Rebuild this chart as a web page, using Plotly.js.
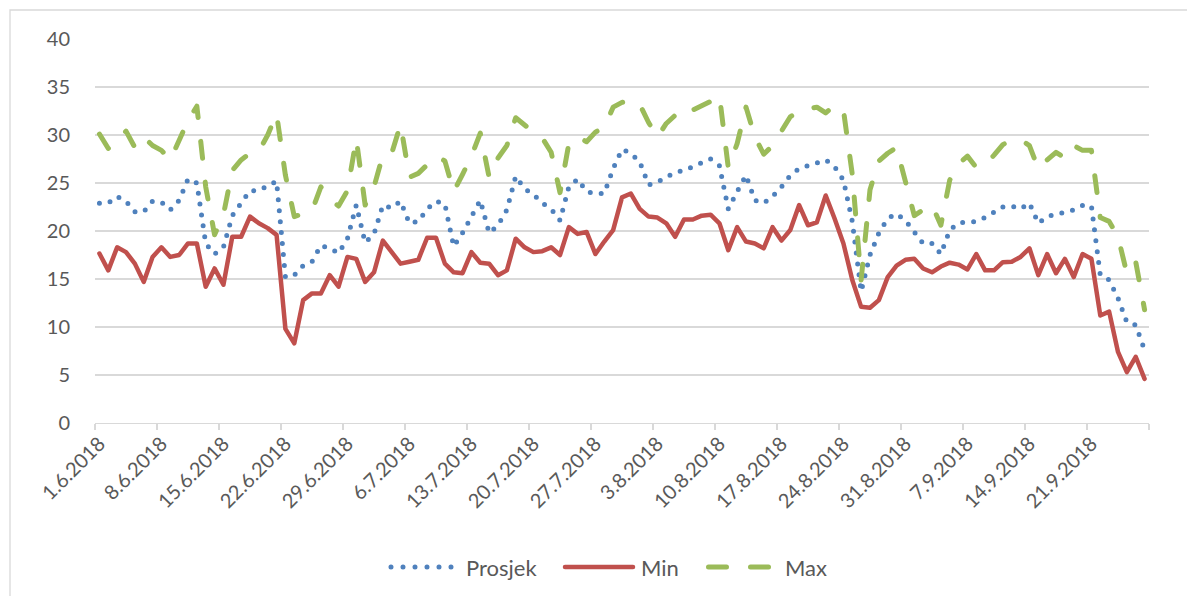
<!DOCTYPE html>
<html><head><meta charset="utf-8">
<script src="https://cdn.plot.ly/plotly-3.0.1.min.js"></script>
<style>
html,body{margin:0;padding:0;background:#fff;}
#chart{width:1187px;height:596px;}
.js-line{stroke-linecap:round;stroke-linejoin:round;}
.shapelayer path{stroke-linecap:round;}
</style></head><body><div id="chart"></div><script>
const dates = [
'2018-06-01','2018-06-02','2018-06-03','2018-06-04','2018-06-05','2018-06-06','2018-06-07','2018-06-08','2018-06-09','2018-06-10',
'2018-06-11','2018-06-12','2018-06-13','2018-06-14','2018-06-15','2018-06-16','2018-06-17','2018-06-18','2018-06-19','2018-06-20',
'2018-06-21','2018-06-22','2018-06-23','2018-06-24','2018-06-25','2018-06-26','2018-06-27','2018-06-28','2018-06-29','2018-06-30',
'2018-07-01','2018-07-02','2018-07-03','2018-07-04','2018-07-05','2018-07-06','2018-07-07','2018-07-08','2018-07-09','2018-07-10',
'2018-07-11','2018-07-12','2018-07-13','2018-07-14','2018-07-15','2018-07-16','2018-07-17','2018-07-18','2018-07-19','2018-07-20',
'2018-07-21','2018-07-22','2018-07-23','2018-07-24','2018-07-25','2018-07-26','2018-07-27','2018-07-28','2018-07-29','2018-07-30',
'2018-07-31','2018-08-01','2018-08-02','2018-08-03','2018-08-04','2018-08-05','2018-08-06','2018-08-07','2018-08-08','2018-08-09',
'2018-08-10','2018-08-11','2018-08-12','2018-08-13','2018-08-14','2018-08-15','2018-08-16','2018-08-17','2018-08-18','2018-08-19',
'2018-08-20','2018-08-21','2018-08-22','2018-08-23','2018-08-24','2018-08-25','2018-08-26','2018-08-27','2018-08-28','2018-08-29',
'2018-08-30','2018-08-31','2018-09-01','2018-09-02','2018-09-03','2018-09-04','2018-09-05','2018-09-06','2018-09-07','2018-09-08',
'2018-09-09','2018-09-10','2018-09-11','2018-09-12','2018-09-13','2018-09-14','2018-09-15','2018-09-16','2018-09-17','2018-09-18',
'2018-09-19','2018-09-20','2018-09-21','2018-09-22','2018-09-23','2018-09-24','2018-09-25','2018-09-26','2018-09-27'];

const prosjek = [22.9,22.9,23.6,23.1,22.0,22.0,23.1,23.0,22.2,23.2,
25.4,25.0,18.7,17.6,18.3,21.6,22.9,24.2,24.2,24.7,
25.2,15.2,15.4,16.4,16.8,18.5,18.2,17.7,19.2,22.7,
18.8,19.7,22.7,22.4,23.1,20.8,21.0,22.3,23.1,22.8,
18.4,19.8,21.4,23.2,19.8,20.6,22.2,25.7,24.4,23.8,
22.9,22.3,21.1,24.6,25.4,24.1,23.9,23.9,26.5,28.5,
28.1,27.2,24.8,25.1,25.6,26.1,26.3,26.7,27.2,27.5,
26.8,22.3,24.1,25.8,23.2,22.9,23.6,24.6,25.8,26.5,
26.8,27.1,27.4,26.7,25.3,21.0,13.7,17.5,19.8,21.3,
21.8,21.1,19.8,18.7,18.7,17.6,20.1,20.85,20.9,21.0,
21.4,21.9,22.5,22.6,22.3,22.9,20.8,21.5,21.7,21.9,
22.2,22.65,22.6,15.4,14.9,13.0,10.5,10.2,7.6];

const minVals = [17.65,15.9,18.3,17.8,16.6,14.7,17.3,18.3,17.3,17.5,
18.7,18.7,14.2,16.1,14.4,19.4,19.4,21.5,20.8,20.3,
19.6,9.8,8.3,12.8,13.5,13.5,15.4,14.2,17.3,17.1,
14.7,15.7,19.0,17.8,16.6,16.8,17.0,19.3,19.3,16.6,
15.7,15.6,17.8,16.7,16.6,15.4,15.9,19.2,18.3,17.8,
17.9,18.3,17.5,20.4,19.7,19.9,17.6,18.9,20.1,23.5,
23.9,22.3,21.5,21.4,20.8,19.4,21.2,21.2,21.6,21.7,
20.8,18.0,20.4,18.9,18.7,18.2,20.4,19.0,20.1,22.7,
20.6,20.9,23.7,21.3,18.7,14.9,12.1,12.0,12.8,15.2,
16.4,17.0,17.1,16.1,15.7,16.3,16.7,16.5,16.0,17.6,
15.9,15.9,16.75,16.8,17.3,18.2,15.4,17.6,15.6,17.1,
15.2,17.6,17.1,11.2,11.6,7.4,5.3,6.9,4.6];

const maxVals = [30.1,28.6,29.4,30.4,28.7,29.8,28.9,28.4,27.4,29.5,
31.5,33.0,24.6,19.6,21.7,26.3,27.4,28.1,28.3,30.0,
32.2,25.8,21.5,21.8,22.1,24.6,23.3,22.6,24.2,29.6,
22.7,24.6,27.9,28.1,31.1,25.6,26.0,26.9,27.8,27.3,
24.1,25.9,27.8,30.2,25.6,27.6,28.9,31.8,31.0,30.3,
29.7,28.2,24.0,29.1,29.8,29.3,30.3,30.8,32.9,33.4,
33.6,33.2,31.3,29.8,31.2,32.0,32.9,32.6,33.05,33.5,
34.1,26.6,29.1,32.9,29.8,28.0,28.9,30.5,31.9,32.5,
32.7,32.9,32.3,33.1,32.6,25.9,14.9,24.3,27.3,28.1,
28.7,25.1,21.6,22.2,22.7,20.6,25.3,27.0,27.8,26.6,
26.9,27.9,29.0,29.5,29.5,28.9,26.5,27.4,28.2,27.6,
28.9,28.4,28.4,21.4,21.0,19.4,15.6,16.8,11.8];

const seriesNames = ['Prosjek','Min','Max'];
const yTicks = [0,5,10,15,20,25,30,35,40];

const C_BLUE='#4F81BD', C_RED='#C0504D', C_GREEN='#9BBB59';
const DOT='0px,11px', DASH='17px,24px';
const FONT={family:'Lato, "Open Sans", sans-serif', size:20, color:'#595959'};
const LEGFONT={family:'Lato, "Open Sans", sans-serif', size:22, color:'#595959'};

const traces = [
  {x:dates, y:prosjek, name:seriesNames[0], type:'scatter', mode:'lines', line:{color:C_BLUE,width:5,dash:DOT}, showlegend:false},
  {x:dates, y:minVals, name:seriesNames[1], type:'scatter', mode:'lines', line:{color:C_RED,width:4.5}, showlegend:false},
  {x:dates, y:maxVals, name:seriesNames[2], type:'scatter', mode:'lines', line:{color:C_GREEN,width:5,dash:DASH}, showlegend:false}
];

const M={l:95,r:38,t:39,b:173}, W=1187, H=596;
const PL=M.l, PR=W-M.r, PT=M.t, PB=H-M.b;
const px = v => (v-PL)/(PR-PL);
const py = v => (PB-v)/(PB-PT);
const LY = 567;

const shapes = [
  {type:'rect', xref:'paper', yref:'paper', x0:px(10), y0:py(10), x1:px(1300), y1:py(700), line:{color:'#d9d9d9',width:1.3}, layer:'below'},
  {type:'line', xref:'paper', yref:'paper', x0:px(391), x1:px(452), y0:py(LY), y1:py(LY), line:{color:C_BLUE,width:5,dash:'0px,12px'}},
  {type:'line', xref:'paper', yref:'paper', x0:px(565), x1:px(633), y0:py(LY), y1:py(LY), line:{color:C_RED,width:4.5}},
  {type:'line', xref:'paper', yref:'paper', x0:px(708.5), x1:px(768.5), y0:py(LY), y1:py(LY), line:{color:C_GREEN,width:5,dash:'18px,24px'}}
];
const legendX = [464, 639, 783];
const annotations = seriesNames.map((n,i)=>({text:n, xref:'paper', yref:'paper', x:px(legendX[i]), y:py(LY), xanchor:'left', yanchor:'middle', showarrow:false, font:LEGFONT}));

const layout = {
  width:W, height:H, margin:M, paper_bgcolor:'#fff', plot_bgcolor:'#fff',
  font:FONT, showlegend:false,
  xaxis:{type:'date', range:['2018-05-31 12:00','2018-09-27 12:00'], tickmode:'linear', tick0:'2018-06-01', dtick:7*86400000,
    tickformat:'%-d.%-m.%Y', tickangle:-45, ticks:'', showgrid:false, zeroline:false,
    showline:true, linecolor:'#d9d9d9', linewidth:1.3, tickfont:FONT,
    minor:{tickmode:'linear', tick0:'2018-05-31 12:00', dtick:7*86400000, ticks:'outside', ticklen:6, tickwidth:1.3, tickcolor:'#d9d9d9', showgrid:false}},
  yaxis:{range:[0,40], tickmode:'array', tickvals:yTicks, ticktext:yTicks.map(String), showgrid:true, gridcolor:'#d9d9d9', gridwidth:1.3,
    zeroline:false, showline:false, ticks:'outside', ticklen:20, tickcolor:'rgba(0,0,0,0)', tickfont:FONT},
  shapes:shapes, annotations:annotations
};
Plotly.newPlot('chart', traces, layout, {displayModeBar:false, staticPlot:true});
</script></body></html>
